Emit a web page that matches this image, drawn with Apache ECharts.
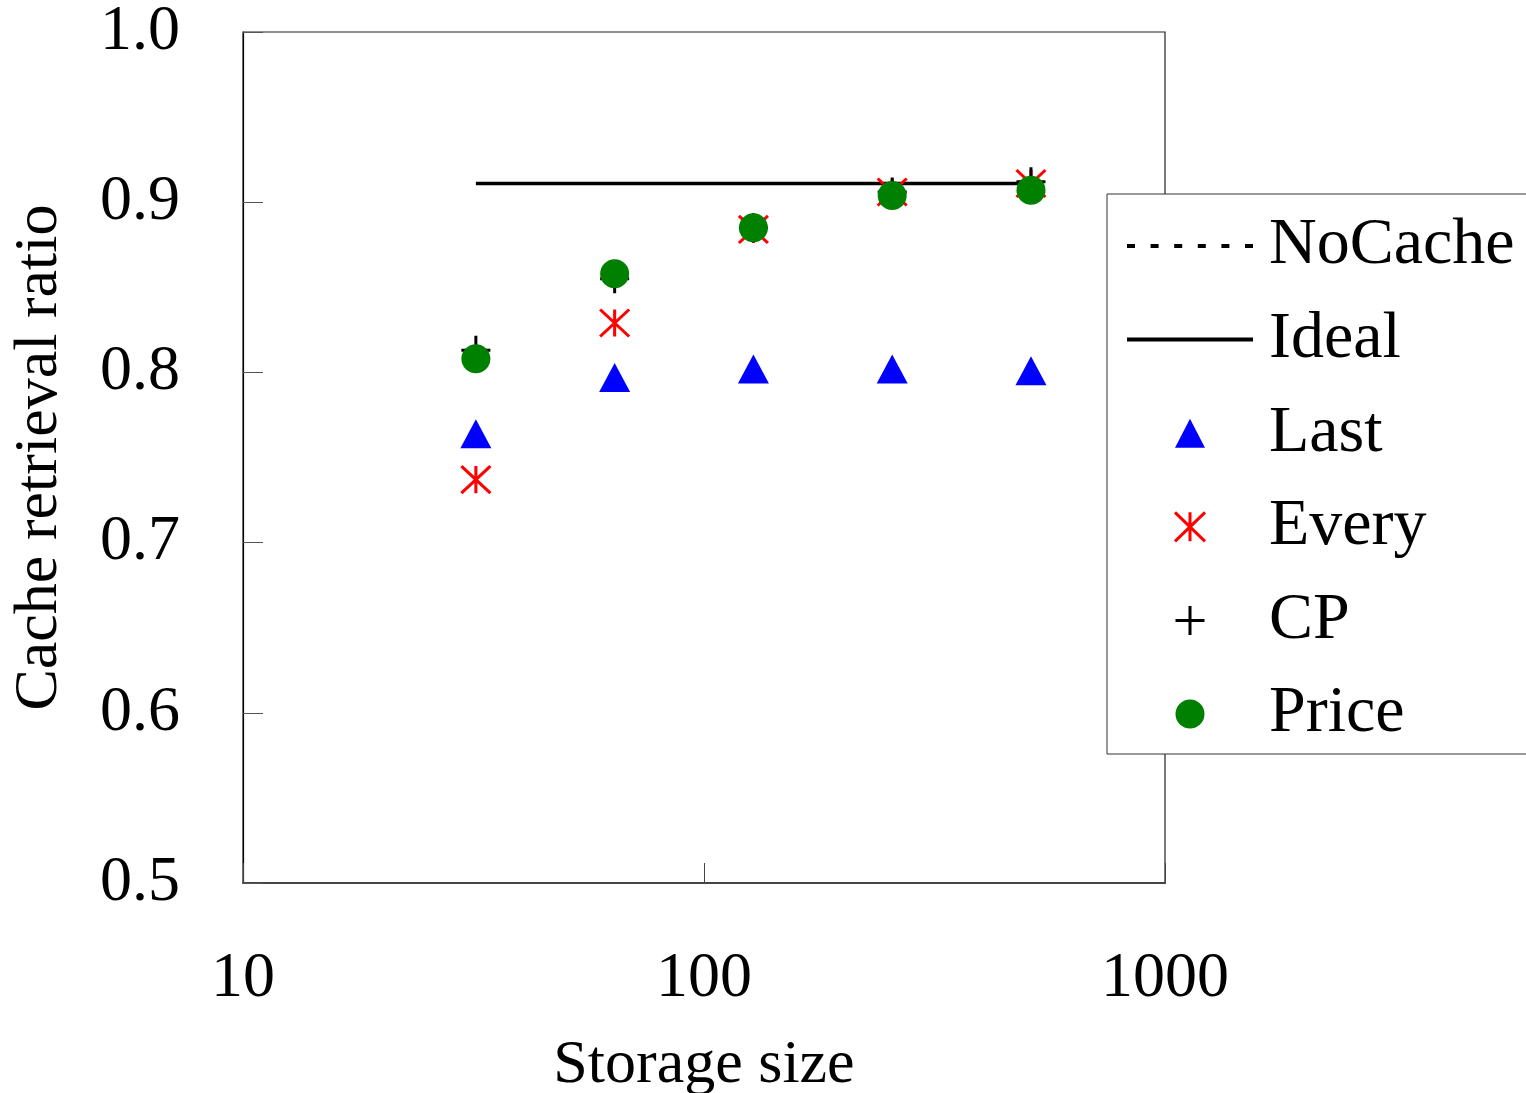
<!DOCTYPE html>
<html>
<head>
<meta charset="utf-8">
<title>Cache retrieval ratio</title>
<script src="https://cdn.jsdelivr.net/npm/echarts@6/dist/echarts.min.js"></script>
<style>
  html, body { margin: 0; padding: 0; background: #fff; }
  #chart { width: 1526px; height: 1093px; }
</style>
</head>
<body>
<div id="chart"></div>
<script>
// storage sizes on the log x axis
const sizes = [32, 64, 128, 256, 512];
const yTicks = [0.5, 0.6, 0.7, 0.8, 0.9, 1.0];
const seriesNames = ['NoCache', 'Ideal', 'Last', 'Every', 'CP', 'Price'];

const noCache = [];  // not visible inside the plotted range
const ideal = [0.911, 0.911, 0.911, 0.911, 0.911];
const last = [0.764, 0.797, 0.802, 0.802, 0.801];
const every = [0.737, 0.829, 0.884, 0.906, 0.911];
const cp = [0.813, 0.855, 0.885, 0.906, 0.912];
const price = [0.808, 0.858, 0.885, 0.904, 0.907];

const FONT = '"Liberation Serif", "Times New Roman", serif';

const pairs = vals => vals.map((v, i) => [sizes[i], v]);

// marker shapes (stroked ones are open paths)
const TRI = 'path://M0,30L15.5,0L31,30Z';
const DOT = 'path://M14,0A14,14 0 1 1 13.99,0Z';
const PLUS = 'path://M0,14.5L29,14.5M14.5,0L14.5,29';
const STAR = 'path://M0,0L29,28M29,0L0,28M14.5,0L14.5,28';
const SOLID = 'path://M0,0H126V4H0Z';
let dashes = '';
for (let i = 0; i < 6; i++) {
  const x0 = i * 23.6;
  dashes += 'M' + x0 + ',0H' + (x0 + 8) + 'V4H' + x0 + 'Z';
}
const DASH = 'path://' + dashes;

const chart = echarts.init(document.getElementById('chart'), null, { renderer: 'canvas' });

const option = {
  animation: false,
  backgroundColor: '#fff',
  grid: {
    left: 243, right: 361, top: 32, bottom: 210,
    outerBoundsMode: 'none',
    show: true, borderColor: '#222', borderWidth: 1.2
  },
  legend: {
    orient: 'vertical',
    left: 1107, top: 194,
    padding: [19, 20, 7, 20],
    itemGap: 27.6,
    itemWidth: 126, itemHeight: 29,
    symbolKeepAspect: true,
    selectedMode: false,
    borderColor: '#333', borderWidth: 1,
    backgroundColor: '#fff',
    textStyle: { fontFamily: FONT, fontSize: 66, color: '#000', padding: [0, 0, 0, 11] },
    data: [
      { name: 'NoCache', icon: DASH, itemStyle: { color: '#000', borderWidth: 0 } },
      { name: 'Ideal', icon: SOLID, itemStyle: { color: '#000', borderWidth: 0 } },
      { name: 'Last', icon: TRI, itemStyle: { color: '#0000ff', borderWidth: 0 } },
      { name: 'Every', icon: STAR, itemStyle: { color: '#ff0000', borderColor: '#ff0000', borderWidth: 3 } },
      { name: 'CP', icon: PLUS, itemStyle: { color: '#000', borderColor: '#000', borderWidth: 3 } },
      { name: 'Price', icon: DOT, itemStyle: { color: '#008000', borderWidth: 0 } }
    ]
  },
  xAxis: {
    type: 'log',
    logBase: 10,
    min: 10,
    max: 1000,
    name: 'Storage size',
    nameLocation: 'middle',
    nameGap: 152,
    nameTextStyle: { fontFamily: FONT, fontSize: 62, color: '#000' },
    axisLine: { show: true, lineStyle: { color: '#444', width: 2 } },
    axisTick: { show: true, inside: true, length: 20, lineStyle: { color: '#444', width: 1 } },
    minorTick: { show: false },
    splitLine: { show: false },
    axisLabel: {
      margin: 64,
      fontFamily: FONT, fontSize: 64, color: '#000',
      formatter: v => String(Math.round(v))
    }
  },
  yAxis: {
    type: 'value',
    min: yTicks[0],
    max: yTicks[yTicks.length - 1],
    interval: 0.1,
    name: 'Cache retrieval ratio',
    nameLocation: 'middle',
    nameGap: 172,
    nameTextStyle: { fontFamily: FONT, fontSize: 62, color: '#000' },
    axisLine: { show: true, lineStyle: { color: '#000', width: 1.2 } },
    axisTick: { show: true, inside: true, length: 20, lineStyle: { color: '#555', width: 1 } },
    splitLine: { show: false },
    axisLabel: {
      margin: 63,
      fontFamily: FONT, fontSize: 64, color: '#000',
      formatter: v => v.toFixed(1)
    }
  },
  series: [
    {
      name: seriesNames[0], type: 'line', data: pairs(noCache), symbol: 'none',
      itemStyle: { color: '#000' },
      lineStyle: { color: '#000', width: 3, type: [8, 15.6] }
    },
    {
      name: seriesNames[1], type: 'line', data: pairs(ideal), symbol: 'none',
      itemStyle: { color: '#000' },
      lineStyle: { color: '#000', width: 3.5 }, z: 2
    },
    {
      name: seriesNames[2], type: 'scatter', data: pairs(last),
      symbol: TRI, symbolSize: [31, 30], symbolKeepAspect: true,
      itemStyle: { color: '#0000ff', opacity: 1 }, z: 3
    },
    {
      name: seriesNames[3], type: 'scatter', data: pairs(every),
      symbol: STAR, symbolSize: [29, 28], symbolKeepAspect: true,
      itemStyle: { color: '#ff0000', borderColor: '#ff0000', borderWidth: 3, opacity: 1 }, z: 4
    },
    {
      name: seriesNames[4], type: 'scatter', data: pairs(cp),
      symbol: PLUS, symbolSize: [29, 29], symbolKeepAspect: true,
      itemStyle: { color: '#000', borderColor: '#000', borderWidth: 3, opacity: 1 }, z: 5
    },
    {
      name: seriesNames[5], type: 'scatter', data: pairs(price),
      symbol: 'circle', symbolSize: 29,
      itemStyle: { color: '#008000', opacity: 1 }, z: 6
    }
  ]
};

chart.setOption(option);
</script>
</body>
</html>
